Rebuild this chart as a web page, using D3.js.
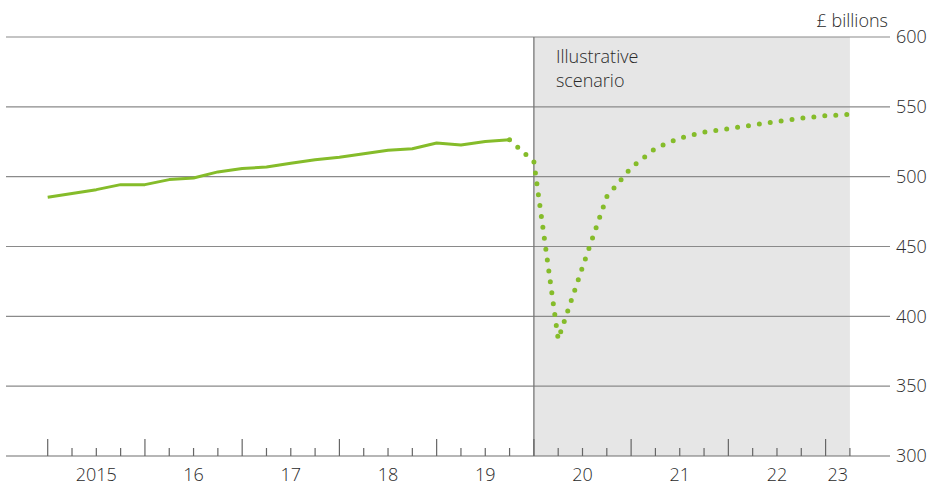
<!DOCTYPE html>
<html>
<head>
<meta charset="utf-8">
<script src="https://d3js.org/d3.v7.min.js"></script>
<style>
  body { margin: 0; background: #fff; }
  text { font-family: "Open Sans", sans-serif; font-weight: 300; fill: #2a2a2a; }
</style>
</head>
<body>
<div id="chart"></div>
<script>

// years shown on the axis (first one written in full)
var years = ["2015", "16", "17", "18", "19", "20", "21", "22", "23"];
var lastYearQuarters = 2;   // data runs to 2023 Q2

// GDP, £ billions, quarterly from 2015 Q1 to 2019 Q4
var actual = [485.2, 487.9, 490.7, 494.3, 494.3, 497.9, 499.1, 503.4, 505.9, 506.9,
              509.6, 512.1, 513.9, 516.4, 518.9, 520.0, 524.1, 522.6, 525.2, 526.4];

// illustrative scenario, 2019 Q4 to 2023 Q2
var scenario = [526.4, 510.7, 383.5, 435.2, 485.7, 506.4, 520.3, 527.6,
                531.9, 534.3, 537.0, 539.4, 541.9, 543.6, 544.6];

var yTicks = [300, 350, 400, 450, 500, 550, 600];
var unitLabel = "£ billions";
var scenarioLabel = ["Illustrative", "scenario"];

// quarter categories
var quarters = [];
years.forEach(function(y, i) {
  var n = (i == years.length - 1) ? lastYearQuarters : 4;
  for (var q = 1; q <= n; q++) quarters.push({ year: y, q: q });
});
quarters.forEach(function(d, i) { d.i = i; });

var width = 929, height = 486;
var plotLeft = 6, plotRight = 890, plotTop = 37, plotBottom = 456;
var fontSize = "18px";

var svg = d3.select("#chart").append("svg")
  .attr("width", width)
  .attr("height", height);

var x = d3.scaleLinear()
  .domain([0, quarters.length - 1])
  .range([47.7, 849.9]);

var y = d3.scaleLinear()
  .domain([300, 600])
  .range([plotBottom, plotTop]);

var scenStart = actual.length; // 2020 Q1

// shaded scenario area
svg.append("rect")
  .attr("x", x(scenStart))
  .attr("y", y(600))
  .attr("width", x(quarters.length - 1) - x(scenStart))
  .attr("height", y(300) - y(600))
  .attr("fill", "#e6e6e6");

// gridlines
svg.append("g").selectAll("line")
  .data(yTicks)
  .enter().append("line")
    .attr("x1", plotLeft)
    .attr("x2", plotRight)
    .attr("y1", function(d) { return y(d); })
    .attr("y2", function(d) { return y(d); })
    .attr("stroke", function(d) { return d == 300 ? "#6e6e6e" : "#8a8a8a"; })
    .attr("stroke-width", 1.2);

// right axis labels
svg.append("g").selectAll("text")
  .data(yTicks)
  .enter().append("text")
    .attr("x", 896)
    .attr("y", function(d) { return y(d); })
    .attr("dy", "0.35em")
    .style("font-size", fontSize)
    .text(function(d) { return d; });

svg.append("text")
  .attr("x", 888)
  .attr("y", 27)
  .attr("text-anchor", "end")
  .style("font-size", fontSize)
  .text(unitLabel);

// divider between data and scenario
svg.append("line")
  .attr("x1", x(scenStart))
  .attr("x2", x(scenStart))
  .attr("y1", y(600))
  .attr("y2", y(300))
  .attr("stroke", "#777")
  .attr("stroke-width", 1.3);

svg.append("g").selectAll("text")
  .data(scenarioLabel)
  .enter().append("text")
    .attr("x", x(scenStart) + 22)
    .attr("y", function(d, i) { return 63 + i * 24; })
    .style("font-size", fontSize)
    .text(function(d) { return d; });

// quarter ticks, longer at start of each year
svg.append("g").selectAll("line")
  .data(quarters)
  .enter().append("line")
    .attr("x1", function(d) { return x(d.i); })
    .attr("x2", function(d) { return x(d.i); })
    .attr("y1", function(d) { return d.q == 1 ? plotBottom - 17 : plotBottom - 8; })
    .attr("y2", plotBottom)
    .attr("stroke", "#666")
    .attr("stroke-width", 1.2);

// year labels
var yearStarts = quarters.filter(function(d) { return d.q == 1; });
svg.append("g").selectAll("text")
  .data(yearStarts)
  .enter().append("text")
    .attr("x", function(d) {
      var end = Math.min(d.i + 4, quarters.length - 1);
      return (x(d.i) + x(end)) / 2;
    })
    .attr("y", 481)
    .attr("text-anchor", "middle")
    .style("font-size", fontSize)
    .text(function(d) { return d.year; });

var green = "#85bc2a";

var line = d3.line()
  .x(function(d) { return x(d.i); })
  .y(function(d) { return y(d.v); });

svg.append("path")
  .datum(actual.map(function(v, i) { return { i: i, v: v }; }))
  .attr("d", line)
  .attr("fill", "none")
  .attr("stroke", green)
  .attr("stroke-width", 3)
  .attr("stroke-linejoin", "round");

svg.append("path")
  .datum(scenario.map(function(v, i) { return { i: i + actual.length - 1, v: v }; }))
  .attr("d", line)
  .attr("fill", "none")
  .attr("stroke", green)
  .attr("stroke-width", 5)
  .attr("stroke-linecap", "round")
  .attr("stroke-dasharray", "0 11");

</script>
</body>
</html>
